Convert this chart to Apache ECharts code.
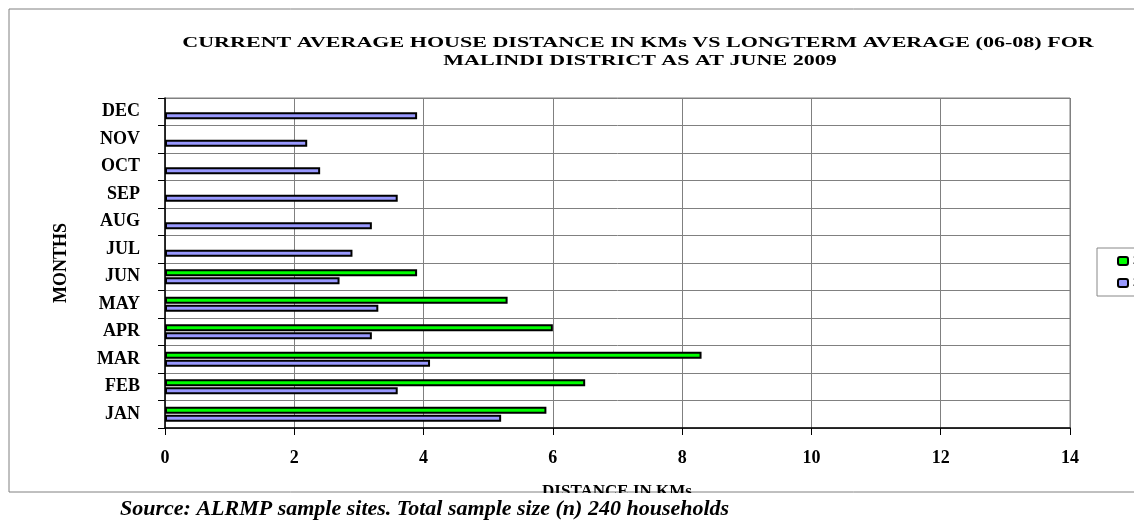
<!DOCTYPE html>
<html>
<head>
<meta charset="utf-8">
<script src="https://cdn.jsdelivr.net/npm/echarts@6/dist/echarts.min.js"></script>
<style>html,body{margin:0;padding:0;background:#fff;}#c{width:1134px;height:521px;}</style>
</head>
<body>
<div id="c"></div>
<script>
const categories = ['JAN','FEB','MAR','APR','MAY','JUN','JUL','AUG','SEP','OCT','NOV','DEC'];
const seriesNames = ['2009', '2006-2008'];
const current2009 = [5.9, 6.5, 8.3, 6.0, 5.3, 3.9, null, null, null, null, null, null];
const longTerm = [5.2, 3.6, 4.1, 3.2, 3.3, 2.7, 2.9, 3.2, 3.6, 2.4, 2.2, 3.9];
const titleLines = ['CURRENT AVERAGE HOUSE DISTANCE IN KMs VS LONGTERM AVERAGE (06-08) FOR', 'MALINDI DISTRICT AS AT JUNE 2009'];
const xAxisName = 'DISTANCE IN KMs';
const yAxisName = 'MONTHS';
const sourceText = 'Source: ALRMP sample sites. Total sample size (n) 240 households';

const serif = '"Liberation Serif", "DejaVu Serif", serif';
const chart = echarts.init(document.getElementById('c'));
chart.setOption({
  backgroundColor: '#fff',
  animation: false,
  grid: { left: 165, right: 64, top: 98, bottom: 93, show: true, borderColor: '#808080', borderWidth: 1 },
  legend: {
    orient: 'vertical', left: 1097, top: 248,
    itemWidth: 10, itemHeight: 8, itemGap: 10,
    padding: [7, 6, 7, 20],
    borderColor: '#888', borderWidth: 1,
    textStyle: { fontFamily: serif, fontWeight: 'bold', fontSize: 12, color: '#000' },
    data: seriesNames
  },
  xAxis: {
    type: 'value', min: 0, max: 14, interval: 2,
    axisLine: { show: true, lineStyle: { color: '#000', width: 1.5 } },
    axisTick: { show: true, length: 7, lineStyle: { color: '#000' } },
    axisLabel: { margin: 21, fontFamily: serif, fontWeight: 'bold', fontSize: 18, color: '#000' },
    splitLine: { show: true, lineStyle: { color: '#808080', width: 1 } }
  },
  yAxis: {
    type: 'category', data: categories,
    name: yAxisName, nameLocation: 'middle', nameRotate: 90, nameGap: 95,
    nameTextStyle: { fontFamily: serif, fontWeight: 'bold', fontSize: 18, color: '#000' },
    axisLine: { show: true, lineStyle: { color: '#000', width: 1.5 } },
    axisTick: { show: true, length: 7, lineStyle: { color: '#000' } },
    axisLabel: { margin: 25, fontFamily: serif, fontWeight: 'bold', fontSize: 18, color: '#000' },
    splitLine: { show: true, lineStyle: { color: '#808080', width: 1 } }
  },
  series: [
    { name: seriesNames[0], type: 'bar', data: current2009, barWidth: 7, barGap: '14%',
      itemStyle: { color: '#00FF00', borderColor: '#000', borderWidth: 2 } },
    { name: seriesNames[1], type: 'bar', data: longTerm, barWidth: 7, barGap: '14%',
      itemStyle: { color: '#9999FF', borderColor: '#000', borderWidth: 2 } }
  ],
  graphic: [
    { type: 'rect', z: 0, silent: true, shape: { x: 9, y: 9, width: 1200, height: 483 },
      style: { fill: 'none', stroke: '#808080', lineWidth: 1 } },
    { type: 'text', z: 10, x: 638, y: 43, scaleX: 1.47, silent: true,
      style: { text: titleLines[0], font: 'bold 15px ' + serif, fill: '#000', textAlign: 'center', textVerticalAlign: 'middle' } },
    { type: 'text', z: 10, x: 640, y: 61, scaleX: 1.47, silent: true,
      style: { text: titleLines[1], font: 'bold 15px ' + serif, fill: '#000', textAlign: 'center', textVerticalAlign: 'middle' } },
    { type: 'text', z: 10, x: 617, y: 492, silent: true,
      style: { text: xAxisName, font: 'bold 17px ' + serif, fill: '#000', textAlign: 'center', textVerticalAlign: 'middle' } },
    { type: 'rect', z: 20, silent: true, shape: { x: 0, y: 493, width: 1134, height: 30 },
      style: { fill: '#fff' } },
    { type: 'text', z: 30, x: 120, y: 509, silent: true,
      style: { text: sourceText, font: 'italic bold 22px ' + serif, fill: '#000', textAlign: 'left', textVerticalAlign: 'middle' } }
  ]
});
</script>
</body>
</html>
